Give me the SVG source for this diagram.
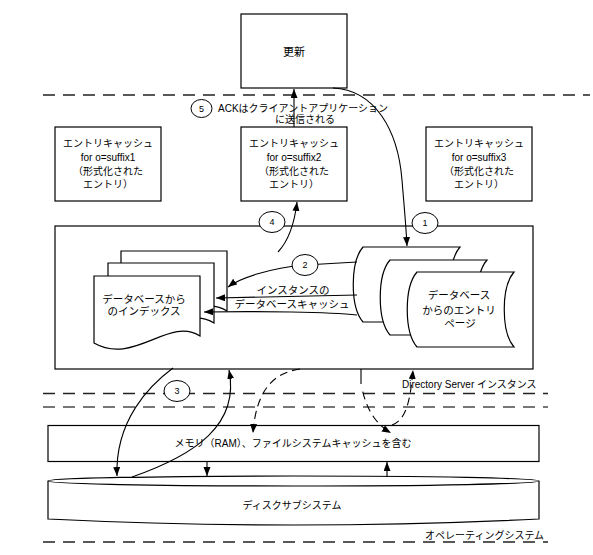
<svg xmlns="http://www.w3.org/2000/svg" width="593" height="555" viewBox="0 0 593 555">
<style>
.box{fill:#fff;stroke:#000;stroke-width:1.2}
.t{font-family:"Liberation Sans","Noto Sans CJK JP",sans-serif;fill:#000;font-size:10px}
.m{text-anchor:middle}
.t105{font-size:10.5px}
.n{font-size:9px;text-anchor:middle}
.conn{fill:none;stroke:#000;stroke-width:1.1}
.dash{stroke-dasharray:8 5}
.sep{fill:none;stroke:#222;stroke-width:1.3;stroke-dasharray:12 8}
.lbl{fill:#fff;stroke:#000;stroke-width:1}
</style>
<defs>
<marker id="ah" markerUnits="userSpaceOnUse" markerWidth="10" markerHeight="8" refX="9" refY="3.5" orient="auto">
<path d="M0,0 L9,3.5 L0,7 z" fill="#000"/>
</marker>
<path id="doc" d="M0,0 H106 V60 C75,40 40,90 0,67 Z"/>
<path id="stored" d="M0,0 H97 C84,15 84,60 97,75 H0 C-13,60 -13,15 0,0 Z"/>
</defs>
<rect width="593" height="555" fill="#fff"/>

<g id="separators">
<path class="sep" d="M43,95 H590"/>
<path class="sep" d="M43,393.5 H548"/>
<path class="sep" d="M43,407 H548" style="stroke:#777;stroke-width:2"/>
<path class="sep" d="M43,542 H548"/>
<text class="t" x="402" y="388">Directory Server インスタンス</text>
<text class="t" x="425" y="538.5">オペレーティングシステム</text>
</g>

<g id="update">
<rect class="box" x="241" y="14" width="106" height="74"/>
<text class="t m" x="294" y="56" style="font-size:11px">更新</text>
</g>

<g id="cache1">
<rect class="box" x="55" y="127" width="106" height="74"/>
<text class="t m" x="108" y="147">エントリキャッシュ</text>
<text class="t m" x="108" y="160.5">for o=suffix1</text>
<text class="t m" x="108" y="174.5">（形式化された</text>
<text class="t m" x="108" y="187.5">エントリ）</text>
</g>
<g id="cache2">
<rect class="box" x="241" y="127" width="106" height="74"/>
<text class="t m" x="294" y="147">エントリキャッシュ</text>
<text class="t m" x="294" y="160.5">for o=suffix2</text>
<text class="t m" x="294" y="174.5">（形式化された</text>
<text class="t m" x="294" y="187.5">エントリ）</text>
</g>
<g id="cache3">
<rect class="box" x="426" y="127" width="106" height="74"/>
<text class="t m" x="479" y="147">エントリキャッシュ</text>
<text class="t m" x="479" y="160.5">for o=suffix3</text>
<text class="t m" x="479" y="174.5">（形式化された</text>
<text class="t m" x="479" y="187.5">エントリ）</text>
</g>

<g id="instance">
<rect class="box" x="55" y="226" width="478" height="143"/>
</g>

<g id="index">
<use href="#doc" class="box" x="121" y="251"/>
<use href="#doc" class="box" x="108" y="263"/>
<use href="#doc" class="box" x="94" y="276"/>
<text class="t t105 m" x="144" y="303">データベースから</text>
<text class="t t105 m" x="144" y="315">のインデックス</text>
</g>

<g id="entrypages">
<use href="#stored" class="box" x="363" y="247"/>
<use href="#stored" class="box" x="390" y="260"/>
<use href="#stored" class="box" x="417" y="272"/>
<text class="t t105 m" x="459" y="299">データベース</text>
<text class="t t105 m" x="459" y="314">からのエントリ</text>
<text class="t t105 m" x="460" y="327">ページ</text>
</g>

<g id="memory">
<rect class="box" x="48" y="425.5" width="491" height="36"/>
<text class="t m" x="293" y="447">メモリ（RAM）、ファイルシステムキャッシュを含む</text>
</g>

<g id="disk">
<path class="box" d="M48,481 V519 Q293.5,531 539,519 V481"/>
<ellipse class="box" cx="293.5" cy="481" rx="245.5" ry="5"/>
<text class="t m" x="292" y="509">ディスクサブシステム</text>
</g>

<g id="connectors">
<path class="conn" d="M294,127 V89" marker-end="url(#ah)"/>
<path class="conn" d="M333,88 C375,90 398,130 402,180 C404,205 406,225 407,246" marker-end="url(#ah)"/>
<path class="conn" d="M278,252 Q293,236 297,202" marker-end="url(#ah)"/>
<path class="conn" d="M357,262 L305,265 C270,268 240,278 228,287" marker-end="url(#ah)"/>
<path class="conn" d="M357,295 L216,298" marker-end="url(#ah)"/>
<path class="conn" d="M357,315 C330,312 260,311 204,312" marker-end="url(#ah)"/>
<path class="conn" d="M173,368 C150,385 115,420 117,476" marker-end="url(#ah)"/>
<path class="conn" d="M132,477 C195,455 240,425 229,370" marker-end="url(#ah)"/>
<path class="conn" d="M207,461.5 V476" marker-end="url(#ah)"/>
<path class="conn" d="M387,477 V462" marker-end="url(#ah)"/>
<path class="conn dash" d="M300,369 C272,373 256,392 253,433" marker-end="url(#ah)"/>
<path class="conn" d="M361,369 V384 C364,398 369,420 391,433" style="stroke-dasharray:15 8 8 5 8 5 8 5 8 5 8 5 8 5 8 5" marker-end="url(#ah)"/>
<path class="conn dash" d="M392,425 C405,420 410,405 413,370" marker-end="url(#ah)"/>
<text class="t t105 m" x="293" y="294">インスタンスの</text>
<text class="t t105 m" x="292" y="308">データベースキャッシュ</text>
<ellipse class="lbl" cx="425" cy="223" rx="13" ry="10.5"/>
<text class="t n" x="425" y="226">1</text>
<ellipse class="lbl" cx="305" cy="265" rx="13" ry="10.5"/>
<text class="t n" x="305" y="268">2</text>
<ellipse class="lbl" cx="177" cy="391" rx="13" ry="10.5"/>
<text class="t n" x="177" y="394">3</text>
<ellipse class="lbl" cx="272" cy="222" rx="13" ry="10.5"/>
<text class="t n" x="272" y="225">4</text>
<ellipse class="lbl" cx="201.5" cy="108.5" rx="10.5" ry="9"/>
<text class="t n" x="201.5" y="111.5">5</text>
<text class="t" x="218" y="112">ACKはクライアントアプリケーション</text>
<text class="t m" x="305" y="123">に送信される</text>
</g>
</svg>
